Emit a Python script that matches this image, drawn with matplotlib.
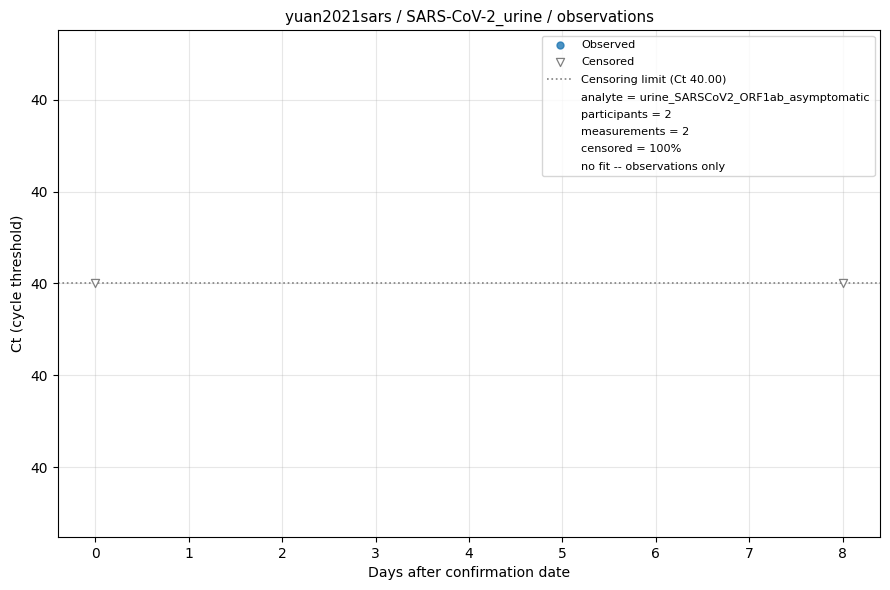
import matplotlib
matplotlib.use('Agg')
import matplotlib.pyplot as plt
from matplotlib.lines import Line2D
from matplotlib.ticker import FormatStrFormatter

# observations
obs_days = []
obs_ct = []
cens_days = [0, 8]
cens_ct = [40.0, 40.0]
ct_limit = 40.0
info_lines = [
    "analyte = urine_SARSCoV2_ORF1ab_asymptomatic",
    "participants = 2",
    "measurements = 2",
    "censored = 100%",
    "no fit -- observations only",
]

fig, ax = plt.subplots(figsize=(8.9, 5.9), dpi=100)
ax.scatter(obs_days, obs_ct, s=25, color='#1f77b4', alpha=0.8, label='Observed')
ax.scatter(cens_days, cens_ct, marker='v', s=34, facecolors='white',
           edgecolors='gray', linewidths=0.9, label='Censored', zorder=3)
ax.axhline(ct_limit, color='gray', linestyle=':', linewidth=1.2,
           label='Censoring limit (Ct %.2f)' % ct_limit)

ax.set_xlim(-0.4, 8.4)
ax.set_ylim(ct_limit + 0.0551, ct_limit - 0.0551)
ax.set_yticks([ct_limit - 0.04, ct_limit - 0.02, ct_limit, ct_limit + 0.02, ct_limit + 0.04])
ax.yaxis.set_major_formatter(FormatStrFormatter('%.0f'))
ax.grid(True, alpha=0.3)
ax.set_xlabel('Days after confirmation date', fontsize=10.1)
ax.set_ylabel('Ct (cycle threshold)', fontsize=10.1)
ax.set_title('yuan2021sars / SARS-CoV-2_urine / observations', fontsize=10.8)

handles, labels = ax.get_legend_handles_labels()
for t in info_lines:
    handles.append(Line2D([], [], linestyle='none', marker=None))
    labels.append(t)
ax.legend(handles, labels, loc='upper right', fontsize=8.1, labelspacing=0.64,
          handlelength=2.3)

plt.subplots_adjust(left=0.065, right=0.989, top=0.949, bottom=0.09)
plt.savefig('out.png')
